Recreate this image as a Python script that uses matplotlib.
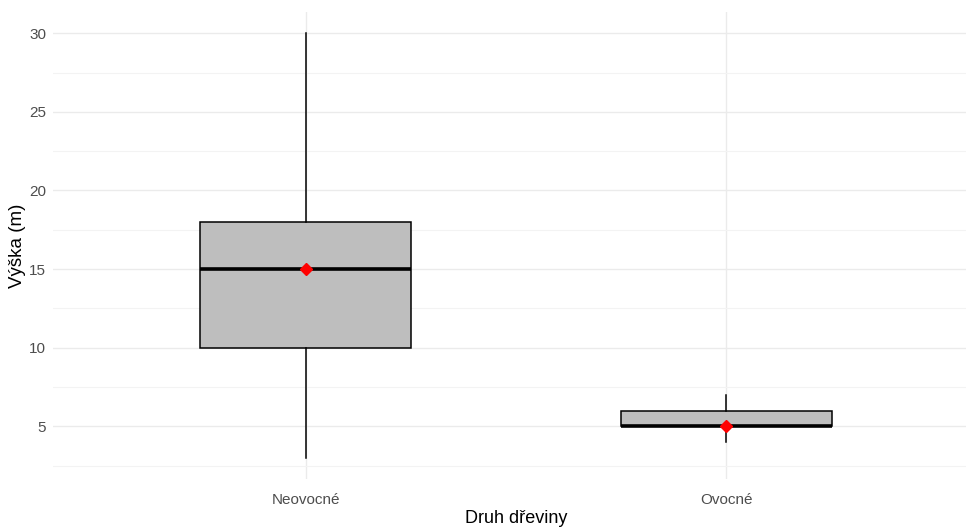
import matplotlib
matplotlib.use('Agg')
import matplotlib.pyplot as plt
from matplotlib.ticker import MultipleLocator

plt.rcParams['font.family'] = ['Liberation Sans', 'DejaVu Sans']

# souhrnné statistiky výšky podle druhu dřeviny
druhy = ['Neovocné', 'Ovocné']
minimum = [3, 4]
q1 = [10, 5]
median = [15, 5]
q3 = [18, 6]
maximum = [30, 7]
prumer = [15, 5]

stats = []
for i, druh in enumerate(druhy):
    stats.append({'label': druh, 'whislo': minimum[i], 'q1': q1[i], 'med': median[i],
                  'q3': q3[i], 'whishi': maximum[i], 'mean': prumer[i], 'fliers': []})

fig = plt.figure(figsize=(9.66, 5.27), dpi=100)
ax = fig.add_axes([53 / 966, (527 - 479) / 527, (979 - 53) / 966, (479 - 12) / 527])

pozice = [1, 2]
ax.bxp(stats, positions=pozice, widths=0.5, patch_artist=True, showfliers=False,
       showcaps=False, showmeans=False,
       boxprops=dict(facecolor='#BEBEBE', edgecolor='black', linewidth=1.1),
       whiskerprops=dict(color='black', linewidth=1.1),
       medianprops=dict(color='black', linewidth=2.6, solid_capstyle='butt'))
ax.plot(pozice, prumer, linestyle='none', marker='D', markersize=6,
        color='red', zorder=5)

ax.set_xlim(0.4, 2.6)
ax.set_ylim(1.65, 31.35)
ax.yaxis.set_major_locator(MultipleLocator(5))
ax.yaxis.set_minor_locator(MultipleLocator(2.5))
ax.set_xticks(pozice)
ax.set_xticklabels(druhy)

ax.grid(True, which='major', color='#EBEBEB', linewidth=1.0)
ax.grid(True, which='minor', axis='y', color='#F3F3F3', linewidth=0.8)
ax.set_axisbelow(True)
for s in ax.spines.values():
    s.set_visible(False)
ax.tick_params(which='both', length=0)
ax.tick_params(axis='y', labelsize=11, labelcolor='#4D4D4D', pad=5)
ax.tick_params(axis='x', labelsize=11, labelcolor='#4D4D4D', pad=10)

ax.set_xlabel('Druh dřeviny', fontsize=13, color='black', labelpad=2)
ax.set_ylabel('Výška (m)', fontsize=13.5, color='black')
ax.yaxis.set_label_coords(-0.029, 0.5)

fig.savefig('out.png', dpi=100)
